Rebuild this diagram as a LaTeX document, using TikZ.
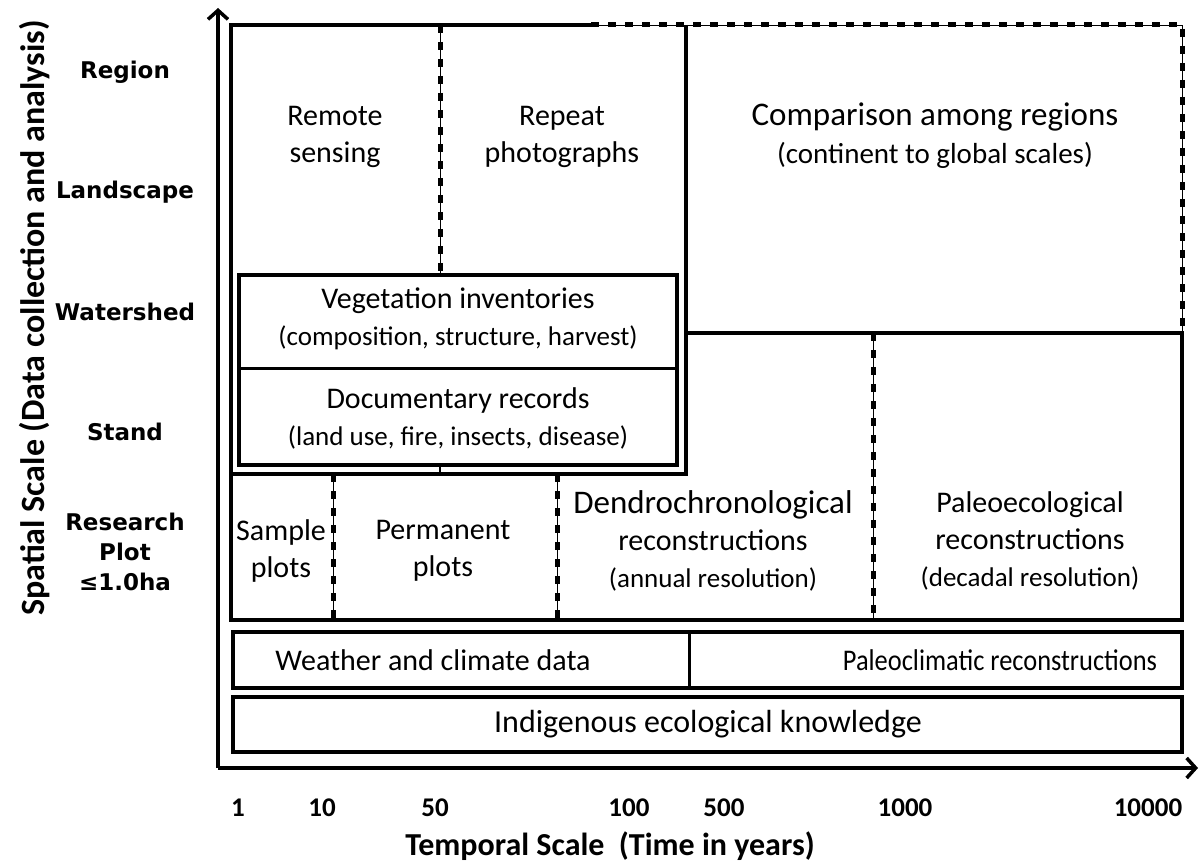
\documentclass[tikz,border=0pt]{standalone}
\usepackage{fontspec}
\setmainfont{Carlito}
\newfontfamily\rowfont{DejaVu Sans}
\newfontfamily\narrowfont[FakeStretch=0.88]{Carlito}
\usetikzlibrary{arrows.meta}

\begin{document}
\begin{tikzpicture}[
  x=1pt, y=-1pt,
  frm/.style={line width=4.5pt},
  dfrm/.style={line width=0.8pt,
               postaction={draw, line width=5pt, dash pattern=on 8pt off 9pt}},
  axis/.style={line width=3.5pt, -{Straight Barb[length=9pt,width=20pt,line width=3.5pt]}},
  txt/.style={font=\fontsize{30}{37}\selectfont, align=center, inner sep=0pt},
  row/.style={font=\rowfont\bfseries\fontsize{23}{30}\selectfont, align=center},
  tck/.style={font=\bfseries\fontsize{27}{30}\selectfont},
  ttl/.style={font=\bfseries\fontsize{32}{36}\selectfont},
]
  \useasboundingbox (0,0) rectangle (1200,867);

  \def\xL{231}    % left frame
  \def\xA{333}    % Sample | Permanent
  \def\xB{440}    % Remote | Repeat
  \def\xC{557}    % Permanent | Dendro
  \def\xD{686}    % right edge of upper-left block
  \def\xE{873}    % Dendro | Paleo
  \def\xR{1182}   % right frame
  \def\sub{\fontsize{27}{32}\selectfont}

  % --- Outer frame ---
  \draw[frm] (591,25) -- (\xL,25) -- (\xL,620) -- (\xR,620) -- (\xR,333) -- (\xD,333);
  \draw[frm] (\xD,25) -- (\xD,474) -- (\xL,474);
  \draw[dfrm] (591,25) -- (\xR,25) -- (\xR,333);

  % --- Dashed dividers ---
  \draw[dfrm] (\xB,25) -- (\xB,275);
  \draw[line width=1.5pt] (\xB,465) -- (\xB,474);
  \draw[dfrm] (\xA,474) -- (\xA,620);
  \draw[dfrm] (\xC,474) -- (\xC,620);
  \draw[dfrm] (\xE,333) -- (\xE,620);

  % --- Inventories / records block ---
  \draw[frm, fill=white] (239,275) rectangle (677,465);
  \draw[line width=3pt] (239,368) -- (677,368);

  % --- Climate rows ---
  \draw[frm] (233,632) rectangle (\xR,688);
  \draw[line width=3pt] (689,632) -- (689,688);
  \draw[frm] (233,697) rectangle (\xR,752);

  % --- Axes ---
  \coordinate (org) at (218,768);
  \coordinate (ytip) at (218,8);
  \coordinate (xtip) at (1198,768);
  \draw[axis] (org) -- (ytip);
  \draw[axis] (org) -- (xtip);

  % --- Box texts ---
  \node[txt] (remote) at (335,137) {Remote\\sensing};
  \node[txt] (repeat) at (562,137) {Repeat\\photographs};
  \node[txt, font=\fontsize{33}{38}\selectfont] (compare) at (935,136)
    {Comparison among regions\\{\fontsize{29}{34}\selectfont(continent to global scales)}};
  \node[txt] (veg) at (458,319) {Vegetation inventories\\{\sub(composition, structure, harvest)}};
  \node[txt] (docs) at (458,418) {Documentary records\\{\sub(land use, fire, insects, disease)}};
  \node[txt] (sample) at (281,551) {Sample\\plots};
  \node[txt] (perm) at (443,551) {Permanent\\plots};
  \node[txt] (dendro) at (713,541) {{\fontsize{33}{37}\selectfont Dendrochronological}\\reconstructions\\{\sub(annual resolution)}};
  \node[txt] (paleo) at (1030,541) {Paleoecological\\reconstructions\\{\sub(decadal resolution)}};
  \node[txt] (weather) at (433,660) {Weather and climate data};
  \node[txt, font=\narrowfont\fontsize{30}{34}\selectfont] (pclim) at (1000,660) {Paleoclimatic reconstructions};
  \node[txt, font=\fontsize{32}{34}\selectfont] (ind) at (708,724) {Indigenous ecological knowledge};

  % --- Spatial scale labels ---
  \node[row] (region) at (125,72) {Region};
  \node[row] (land) at (125,192) {Landscape};
  \node[row] (water) at (125,312) {Watershed};
  \node[row] (stand) at (125,432) {Stand};
  \node[row] (plot) at (125,552) {Research\\Plot\\≤1.0ha};
  \node[ttl, font=\bfseries\fontsize{34}{36}\selectfont, rotate=90] (ytitle) at (35,318)
    {Spatial Scale (Data collection and analysis)};

  % --- Temporal scale labels ---
  \foreach \x/\t in {238/1, 322/10, 435/50, 629/100, 724/500, 905/1000, 1148/10000}
    \node[tck] (t\t) at (\x,808) {\t};
  \node[ttl] (xtitle) at (610,846) {Temporal Scale\ \ (Time in years)};

\end{tikzpicture}
\end{document}
